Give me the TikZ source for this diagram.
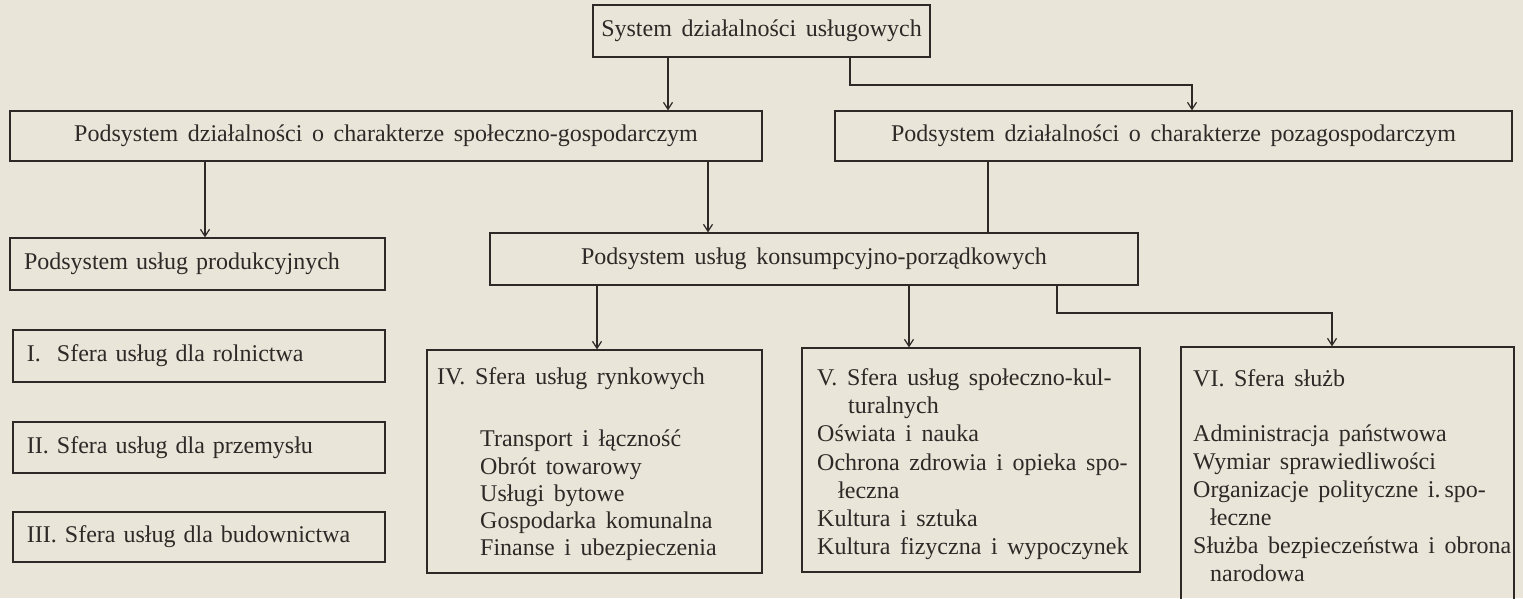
\documentclass[tikz,border=0pt]{standalone}
\usepackage{fontspec}
\setmainfont{Liberation Serif}[WordSpace=1.6]
\usetikzlibrary{arrows.meta}
\definecolor{paper}{RGB}{233,229,216}
\definecolor{ink}{RGB}{45,41,39}
\newcommand\myfs{\fontsize{24}{28}\selectfont}
\begin{document}
\begin{tikzpicture}[x=1pt,y=-1pt,
  every node/.style={text=ink, font=\myfs},
  box/.style={draw=ink, line width=1.2pt, rectangle, inner sep=0pt},
  cbox/.style={box, align=center},
  lbox/.style={box, inner xsep=14pt, align=left},
  txt/.style={inner sep=0pt, align=left},
  arr/.style={draw=ink, line width=1.2pt, -{Straight Barb[length=7pt,width=9pt]}},
  ln/.style={draw=ink, line width=1.2pt}]
\fill[paper] (0,0) rectangle (1523,598);
\useasboundingbox (0,0) rectangle (1523,598);
% boxes
\node[cbox, minimum width=337pt, minimum height=52pt] (T) at (761.5,31) {System działalności usługowych};
\node[cbox, minimum width=752pt, minimum height=50pt] (A) at (386,136) {Podsystem działalności o charakterze społeczno-gospodarczym};
\node[cbox, minimum width=677pt, minimum height=50pt] (B) at (1173.5,136) {Podsystem działalności o charakterze pozagospodarczym};
\node[lbox, text width=347pt, minimum height=52pt] (P) at (197.5,264) {Podsystem usług produkcyjnych};
\node[cbox, minimum width=648pt, minimum height=52pt] (K) at (814,259) {Podsystem usług konsumpcyjno-porządkowych};
\node[lbox, text width=344pt, minimum height=52pt] (S1) at (199,356) {I.\ \ Sfera usług dla rolnictwa};
\node[lbox, text width=344pt, minimum height=51pt] (S2) at (199,447.5) {II. Sfera usług dla przemysłu};
\node[lbox, text width=344pt, minimum height=50pt] (S3) at (199,537) {III. Sfera usług dla budownictwa};
\node[box, minimum width=335pt, minimum height=223pt] (n4) at (594.5,461.5) {};
\node[box, minimum width=338pt, minimum height=224pt] (n5) at (971,460) {};
\node[box, minimum width=333pt, minimum height=272pt] (n6) at (1347.5,483) {};
% texts in large boxes
\node[txt, anchor=west] (t4) at (437,379) {IV. Sfera usług rynkowych};
\node[txt, anchor=north west, font=\fontsize{24}{27.25}\selectfont] (l4) at (480,430) {Transport i łączność\\Obrót towarowy\\Usługi bytowe\\Gospodarka komunalna\\Finanse i ubezpieczenia};
\node[txt, anchor=north west, font=\fontsize{24}{28.3}\selectfont] (l5) at (817,368) {V. Sfera usług społeczno-kul-\\\hspace*{31pt}turalnych\\Oświata i nauka\\Ochrona zdrowia i opieka spo-\\\hspace*{21pt}łeczna\\Kultura i sztuka\\Kultura fizyczna i wypoczynek};
\node[txt, anchor=west] (t6) at (1193,378) {VI. Sfera służb};
\node[txt, anchor=north west, font=\fontsize{24}{28}\selectfont] (l6) at (1193,425) {Administracja państwowa\\Wymiar sprawiedliwości\\Organizacje polityczne i.\,spo-\\\hspace*{17pt}łeczne\\Służba bezpieczeństwa i obrona\\\hspace*{17pt}narodowa};
% connectors
\coordinate (x1) at (668,0);
\coordinate (x2) at (850,0);
\coordinate (x3) at (1192,85);
\coordinate (x4) at (205,0);
\coordinate (x5) at (708,0);
\coordinate (x6) at (988,0);
\coordinate (x7) at (597,0);
\coordinate (x8) at (909,0);
\coordinate (x9) at (1057,0);
\coordinate (x10) at (1332,313);
\draw[arr] (x1 |- T.south) -- (x1 |- A.north);
\draw[arr] (x2 |- T.south) |- (x3) -- (x3 |- B.north);
\draw[arr] (x4 |- A.south) -- (x4 |- P.north);
\draw[arr] (x5 |- A.south) -- (x5 |- K.north);
\draw[ln] (x6 |- B.south) -- (x6 |- K.north);
\draw[arr] (x7 |- K.south) -- (x7 |- n4.north);
\draw[arr] (x8 |- K.south) -- (x8 |- n5.north);
\draw[arr] (x9 |- K.south) |- (x10) -- (x10 |- n6.north);
\end{tikzpicture}
\end{document}
